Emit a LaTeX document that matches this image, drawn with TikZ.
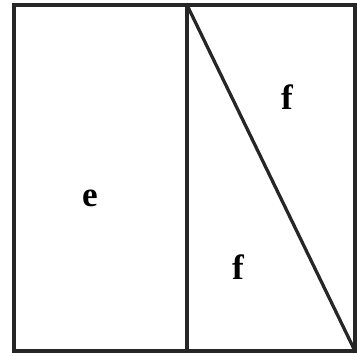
\documentclass[tikz,border=0pt]{standalone}
\usepackage{fontspec}
\setmainfont{Liberation Serif}
\begin{document}
\begin{tikzpicture}[x=0.028cm,y=-0.028cm]
        % Define line and label properties
        \def\framewidth{2.6pt}
        \tikzset{
            frameline/.style={draw=black!85, line width=\framewidth, line cap=rect},
            letter/.style={font=\fontsize{28}{30}\selectfont\bfseries, inner sep=0pt}
        }

        % Fix the canvas
        \useasboundingbox (0,0) rectangle (357,357);

        % Corner points
        \coordinate (topleft) at (14,5);
        \coordinate (topright) at (355,5);
        \coordinate (bottomleft) at (14,351);
        \coordinate (bottomright) at (355,351);
        \coordinate (midtop) at (187,5);
        \coordinate (midbottom) at (187,351);

        % Draw the outer square and the dividing lines
        \draw[frameline] (topleft) rectangle (bottomright);
        \draw[frameline] (midtop) -- (midbottom);
        \draw[frameline] (midtop) -- (bottomright);

        % Labels
        \node[letter] (labele) at (90,198) {e};
        \node[letter] (labelfup) at (287,97) {f};
        \node[letter] (labelfdown) at (238,267) {f};
    \end{tikzpicture}
\end{document}
